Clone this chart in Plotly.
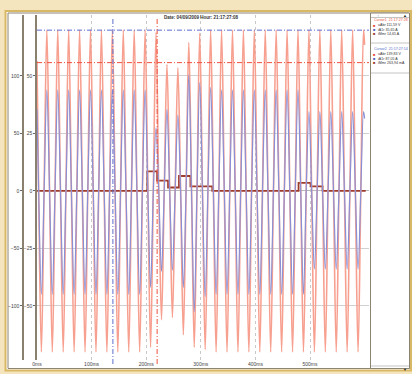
import plotly.graph_objects as go

W, H = 412, 374
PL, PR, PT, PB = 10, 369, 15, 360  # plot-area edges in px

# ---------------- data ----------------
# times (ms) of successive half-cycle extrema (trough, peak, trough, ...)
t_ext = list(range(8, 600, 10))
# voltage uAB extrema (outer left scale)
u_ext = [-140, 140, -140, 140, -140, 140, -140, 140, -140, 140,
         -140, 140, -140, 140, -140, 140, -140, 140, -140, 140,
         -136, 138, -112, 110, -110, 107, -125, 129, -136, 137,
         -138, 140, -140, 140, -140, 140, -140, 140, -140, 140,
         -140, 140, -140, 140, -140, 140, -140, 140, -140, 140,
         -140, 140, -140, 140, -140, 140, -140, 140, -140, 140]
# current iA extrema (outer left scale)
i_ext = [-90, 88, -90, 88, -90, 88, -90, 88, -90, 88,
         -90, 88, -90, 88, -90, 88, -90, 88, -90, 88,
         -84, 55, -70, 71, -69, 66, -84, 101, -105, 94,
         -92, 90, -90, 88, -90, 88, -90, 88, -90, 88,
         -90, 88, -90, 88, -90, 88, -90, 88, -90, 69,
         -68, 69, -68, 69, -68, 69, -68, 69, -68, 69]
t_start, u_start, i_start = 0, 113, 71
t_end, u_end, i_end = 600, 127, 63

# third channel (step trace near zero, inner scale)
step_t = [0, 202, 220, 240, 260, 281, 321, 479, 501, 523, 602]
step_v = [0, 8.5, 4.5, 1.5, 6.5, 2, 0, 3.5, 2, 0, 0]

# cursors
cursor_t = [139, 220]
cursor_u = [139.83, 111.59]

x_ticks = [0, 100, 200, 300, 400, 500]
x_labels = ["0ms", "100ms", "200ms", "300ms", "400ms", "500ms"]

title_txt = "Date: 04/09/2009 Hour: 21:17:27:08"
cur1_head = "Cursor1  21:17:27:28"
cur2_head = "Cursor2  21:17:27:14"
cur1_rows = ["uAbr 111,59 V", "iA1r 35,65 A", "iMmr 14,65 A"]
cur2_rows = ["uAbr 139,83 V", "iA1r 87,05 A", "iMmr 263,94 mA"]
row_colors = ["#e8503c", "#4f5fc0", "#9a3a2a"]


def px2x(px):
    return (px - PL) / (PR - PL)


def py2y(py):
    return (PB - py) / (PB - PT)


def wave(ext, v0, v1):
    ts, vs = [t_start], [v0]
    for t, v in zip(t_ext, ext):
        ts += [t - 5, t]
        vs += [0, v]
    ts.append(t_end)
    vs.append(v1)
    return ts, vs


ut, uv = wave(u_ext, u_start, u_end)
it, iv = wave(i_ext, i_start, i_end)

fig = go.Figure()
fig.add_trace(go.Scatter(x=ut, y=uv, yaxis="y2", mode="lines",
                         line=dict(color="#f7a090", width=1.6, shape="spline"),
                         hoverinfo="skip"))
fig.add_trace(go.Scatter(x=it, y=iv, yaxis="y2", mode="lines",
                         line=dict(color="#8a90d6", width=1.2, shape="spline"),
                         hoverinfo="skip"))
fig.add_trace(go.Scatter(x=step_t, y=step_v, yaxis="y", mode="lines",
                         line=dict(color="#9c3b2c", width=1.8, shape="hv"),
                         hoverinfo="skip"))

shapes = []
# outer gold frame and white panel
shapes.append(dict(type="rect", xref="paper", yref="paper", layer="below",
                   x0=px2x(5.5), x1=px2x(411), y0=py2y(370.5), y1=py2y(11),
                   fillcolor="white", line=dict(color="#d9b865", width=2)))
shapes.append(dict(type="rect", xref="paper", yref="paper", layer="below",
                   x0=px2x(8), x1=px2x(409.5), y0=py2y(368.5), y1=py2y(13),
                   fillcolor="white", line=dict(color="#8c8472", width=1)))
# legend panel
shapes.append(dict(type="rect", xref="paper", yref="paper",
                   x0=px2x(370.5), x1=px2x(409.5), y0=py2y(368.5), y1=py2y(13),
                   fillcolor="white", line=dict(color="#8c8472", width=1)))
for yy in (17.5, 43, 73, 366):
    shapes.append(dict(type="line", xref="paper", yref="paper",
                       x0=px2x(371), x1=px2x(409), y0=py2y(yy), y1=py2y(yy),
                       line=dict(color="#c4c4c4", width=1)))
# cursors
cur_cols = ["#5c6ed0", "#f0503e"]
for tc, col in zip(cursor_t, cur_cols):
    shapes.append(dict(type="line", xref="x", yref="paper",
                       x0=tc, x1=tc, y0=py2y(364), y1=py2y(17),
                       line=dict(color=col, width=1, dash="5px,2px,1px,2px")))
for uc, col in zip(cursor_u, cur_cols):
    shapes.append(dict(type="line", xref="paper", yref="y2",
                       x0=px2x(37), x1=1, y0=uc, y1=uc,
                       line=dict(color=col, width=1, dash="5px,2px,1px,2px")))

ann = []


def text(px, py, s, size=4, color="#333", xanchor="left", bold=False):
    ann.append(dict(xref="paper", yref="paper", x=px2x(px), y=py2y(py),
                    text=("<b>%s</b>" % s) if bold else s, showarrow=False,
                    xanchor=xanchor, yanchor="middle",
                    font=dict(size=size, color=color, family="Liberation Sans")))


text(201, 17, title_txt, size=4.5, color="#333", xanchor="center", bold=True)
text(372, 19.5, cur1_head, size=3.6, color="#e8503c")
text(372, 48.5, cur2_head, size=3.6, color="#4f6ac8")
for j, (r1, r2) in enumerate(zip(cur1_rows, cur2_rows)):
    text(371.5, 25 + 4.5 * j, "■", size=4, color=row_colors[j])
    text(375.5, 25 + 4.5 * j, r1, size=3.6, color="#333")
    text(371.5, 54 + 4.5 * j, "■", size=4, color=row_colors[j])
    text(375.5, 54 + 4.5 * j, r2, size=3.6, color="#333")
text(375, 15.5, "↕", size=4, color="#6a8ad8")
text(404.5, 15.5, "▲", size=4, color="#222", xanchor="center")
text(404.5, 369.5, "▼", size=4, color="#222", xanchor="center")

axfont = dict(size=5, color="#444", family="Liberation Sans")
fig.update_layout(
    template="none",
    width=W, height=H, autosize=False,
    margin=dict(l=PL, r=W - PR, t=PT, b=H - PB, pad=0),
    paper_bgcolor="#f4e5bf", plot_bgcolor="white",
    showlegend=False,
    xaxis=dict(domain=[px2x(37), 1], range=[0, 608], tickvals=x_ticks,
               ticktext=x_labels, tickfont=axfont, showgrid=True,
               gridcolor="#c8c8c8", griddash="dot", gridwidth=1,
               showline=False, zeroline=False, ticks="", automargin=False),
    yaxis=dict(anchor="x", range=[-73.5, 76.5], tickvals=[-50, -25, 0, 25, 50],
               tickfont=axfont, showgrid=False, zeroline=False, showline=True,
               linecolor="#8a8070", linewidth=1.5, ticks="outside", ticklen=2,
               tickcolor="#666", automargin=False),
    yaxis2=dict(overlaying="y", anchor="free", position=px2x(23), side="left",
                range=[-147, 153], tickvals=[-100, -50, 0, 50, 100],
                tickfont=axfont, showgrid=True, gridcolor="#d0d0d0",
                gridwidth=1, zeroline=True, zerolinecolor="#b8b8b8",
                showline=True, linecolor="#8a8070", linewidth=1.5,
                ticks="outside", ticklen=2, tickcolor="#666", automargin=False),
    shapes=shapes, annotations=ann,
)

fig.write_html("out.html",
               config={"displayModeBar": False},
               post_script="document.body.style.margin='0px';"
                           "document.body.style.overflow='hidden';")
